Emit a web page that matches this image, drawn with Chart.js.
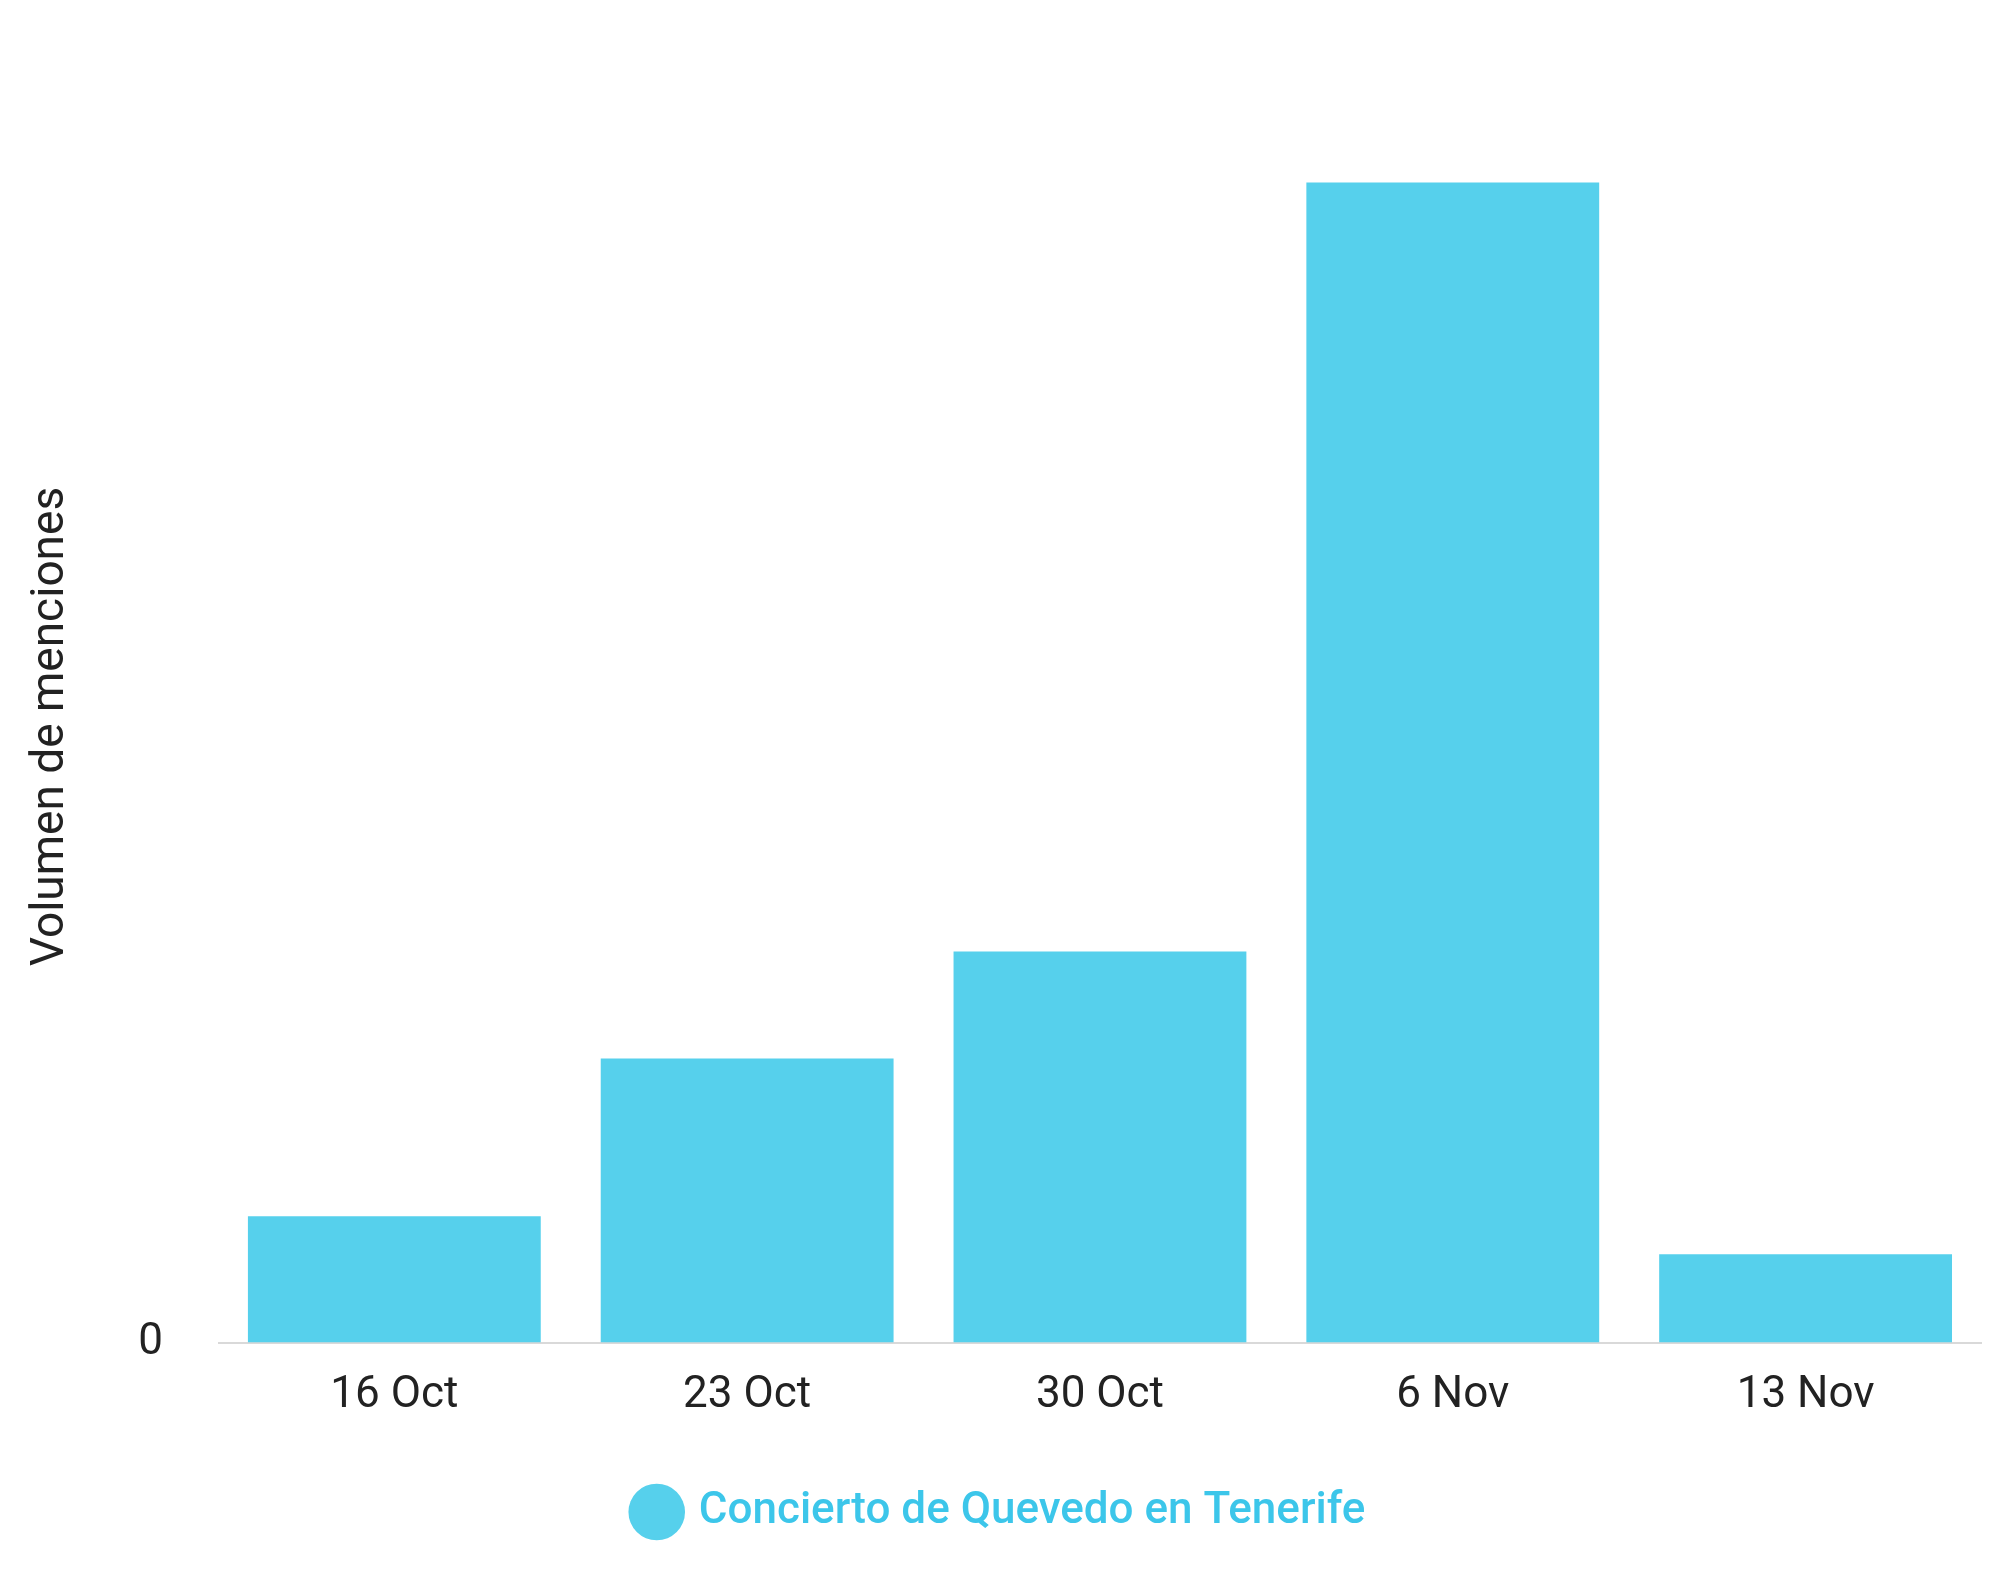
<!DOCTYPE html>
<html>
<head>
<meta charset="utf-8">
<script src="https://cdn.jsdelivr.net/npm/chart.js@4"></script>
<style>
  html, body { margin: 0; background: #fff; }
  #wrap { width: 2000px; height: 1584px; }
</style>
</head>
<body>
<div id="wrap"><canvas id="chart"></canvas></div>
<script>
const labels = ["16 Oct", "23 Oct", "30 Oct", "6 Nov", "13 Nov"];
const menciones = [350, 785, 1080, 3200, 245];
const seriesName = "Concierto de Quevedo en Tenerife";

const barColor = "#56d0ec";

new Chart(document.getElementById("chart"), {
    type: "bar",
    data: {
        labels,
        datasets: [{
            label: seriesName,
            data: menciones,
            backgroundColor: barColor,
            borderWidth: 0,
            categoryPercentage: 0.83,
            barPercentage: 1
        }]
    },
    options: {
        responsive: true,
        maintainAspectRatio: false,
        animation: false,
        layout: {padding: {top: 110, right: 18, left: 20, bottom: 40}},
        scales: {
            x: {
                grid: {display: false},
                border: {display: false},
                ticks: {color: "#222", font: {family: "Roboto", size: 44}, padding: 18}
            },
            y: {
                min: 0,
                max: 3400,
                afterBuildTicks: axis => {
                    axis.ticks = axis.ticks.filter(t => t.value % 1000 === 0);
                },
                grid: {color: "#d9d9d9", lineWidth: 2, drawTicks: false},
                border: {display: false},
                ticks: {
                    stepSize: 1000,
                    color: "#222",
                    padding: 55,
                    font: {family: "Roboto", size: 44},
                    callback: v => v === 0 ? "0" : (v / 1000) + "k"
                },
                title: {
                    display: true,
                    text: "Volumen de menciones",
                    color: "#222",
                    font: {family: "Roboto", size: 46}
                }
            }
        },
        plugins: {
            legend: {
                position: "bottom",
                labels: {
                    usePointStyle: true,
                    pointStyle: "circle",
                    boxWidth: 40,
                    boxHeight: 40,
                    padding: 50,
                    color: "#3cc6ea",
                    font: {family: "Roboto", size: 44, weight: "500"}
                }
            },
            tooltip: {enabled: false}
        }
    }
});
</script>
</body>
</html>
